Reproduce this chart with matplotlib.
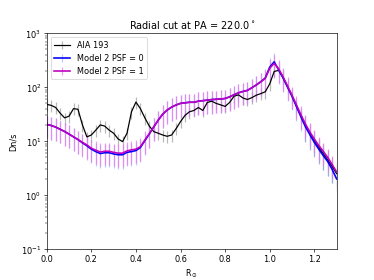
import matplotlib
matplotlib.use("Agg")
import matplotlib.pyplot as plt
import numpy as np

# radial distance grid (solar radii)
r = np.arange(66) * 0.02

aia = [48, 46, 42, 33, 27, 29, 40, 39, 20, 12,
       13, 16, 20, 19, 16, 14, 11, 9.8, 14, 35,
       53, 40, 27, 19, 15, 14, 13, 12.3, 13, 17,
       23, 30, 35, 37, 42, 37, 52, 55, 50, 47,
       44, 52, 68, 72, 63, 59, 64, 71, 76, 82,
       115, 195, 205, 150, 102, 69, 45, 29.5, 19.5, 14,
       10.2, 7.7, 5.9, 4.5, 3.4, 2.5]

psf0 = [20.4, 19.5, 18.2, 16.6, 15.1, 13.5, 12.0, 10.7, 9.3, 8.2,
        7.1, 6.4, 5.9, 6.1, 6.1, 5.8, 5.6, 5.6, 6.2, 6.4,
        6.7, 7.6, 10.2, 13.6, 18.4, 24.5, 31.6, 37.6, 42.7, 46.8,
        50.1, 51.3, 52.5, 52.5, 55.0, 56.2, 57.5, 58.9, 59.6, 60.3,
        61.7, 66.1, 72.4, 78.5, 83.2, 87.1, 97.7, 110, 126, 148,
        235, 295, 209, 148, 100, 67.6, 43.7, 28.2, 18.6, 13.2,
        9.5, 7.1, 5.4, 4.2, 3.0, 2.0]

psf1 = [20.4, 19.5, 18.2, 16.6, 15.1, 13.5, 12.0, 10.7, 9.5, 8.5,
        7.4, 6.8, 6.3, 6.5, 6.5, 6.2, 6.0, 6.0, 6.6, 6.9,
        7.1, 7.9, 10.5, 13.8, 18.4, 24.5, 31.6, 37.6, 42.7, 46.8,
        50.1, 51.3, 52.5, 52.5, 55.0, 56.2, 57.5, 58.9, 59.6, 60.3,
        61.7, 66.1, 72.4, 78.5, 83.2, 87.1, 97.7, 110, 126, 145,
        224, 275, 219, 155, 105, 70.8, 46.8, 30.9, 20.9, 14.8,
        11.0, 8.3, 6.5, 5.0, 3.7, 2.7]

aia = np.array(aia)
psf0 = np.array(psf0)
psf1 = np.array(psf1)

# relative uncertainties
aia_frac = np.where(r > 1.15, 0.5, 0.25)
model_frac = 0.45

# default 6.4x4.8 figure, saved small
fig, ax = plt.subplots(figsize=(6.4, 4.8))

ax.errorbar(r, aia, yerr=aia * aia_frac, color='k', ecolor=(0.5, 0.5, 0.5, 0.55),
            lw=1.5, elinewidth=1.5, label='AIA 193')
ax.errorbar(r, psf0, yerr=psf0 * model_frac, color='b', ecolor=(0.55, 0.65, 1.0, 0.6),
            lw=2, elinewidth=1.5, label='Model 2 PSF = 0')
ax.errorbar(r, psf1, yerr=psf1 * model_frac, color='m', ecolor=(0.93, 0.45, 0.93, 0.7),
            lw=2, elinewidth=1.5, label='Model 2 PSF = 1')

ax.set_yscale('log')
ax.set_xlim(0, 1.3)
ax.set_ylim(0.1, 1000)
ax.set_xlabel(r'R$_\odot$')
ax.set_ylabel('Dn/s')
ax.set_title(r'Radial cut at PA = 220.0$^\circ$')
ax.legend(loc='upper left')

fig.savefig('out.png', dpi=374 / 6.4)
